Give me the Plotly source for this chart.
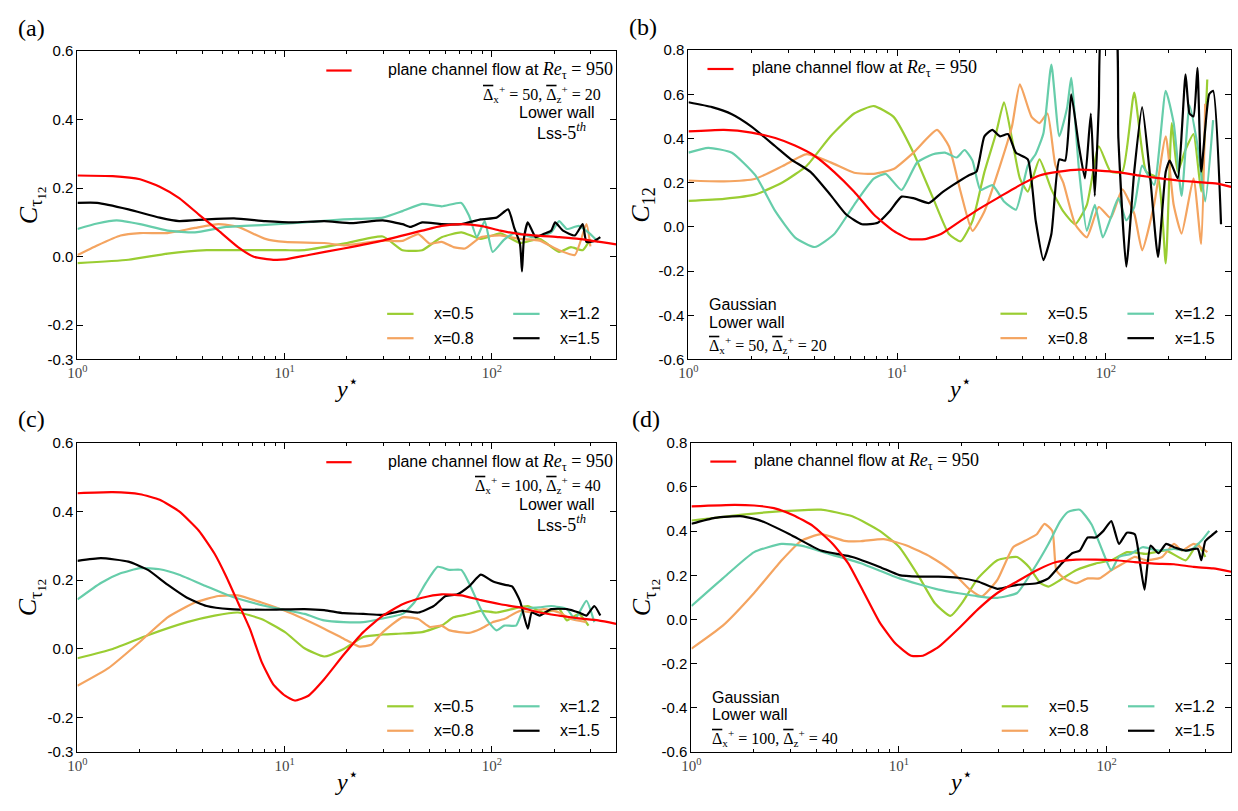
import numpy as np
import plotly.graph_objects as go

# ---------------- data: log10(y*) positions and correlation values ----------------
# Panel (a)
a_red_lx = [0, 0.17, 0.302, 0.397, 0.491, 0.586, 0.681, 0.775, 0.851, 0.945, 1.002, 1.115, 1.285, 1.474, 1.664, 1.758, 1.853, 1.947, 2.042, 2.136, 2.325, 2.42, 2.6]
a_red_v = [0.237, 0.235, 0.226, 0.204, 0.171, 0.123, 0.076, 0.028, 0.0, -0.009, -0.008, 0.005, 0.024, 0.047, 0.076, 0.09, 0.095, 0.09, 0.076, 0.066, 0.057, 0.052, 0.036]
a_k_lx = [0, 0.095, 0.246, 0.397, 0.491, 0.624, 0.756, 0.907, 1.04, 1.191, 1.323, 1.474, 1.569, 1.607, 1.664, 1.758, 1.853, 1.947, 2.023, 2.079, 2.108, 2.136, 2.146, 2.155, 2.174, 2.212, 2.25, 2.287, 2.306, 2.344, 2.401, 2.439, 2.457, 2.495, 2.524]
a_k_v = [0.157, 0.157, 0.138, 0.114, 0.104, 0.109, 0.112, 0.104, 0.1, 0.104, 0.098, 0.106, 0.095, 0.087, 0.1, 0.095, 0.095, 0.109, 0.114, 0.138, 0.085, 0.038, -0.043, 0.052, 0.1, 0.057, 0.066, 0.076, 0.1, 0.076, 0.062, 0.095, 0.043, 0.046, 0.057]
a_t_lx = [0, 0.095, 0.189, 0.302, 0.435, 0.567, 0.718, 0.907, 1.096, 1.285, 1.474, 1.569, 1.664, 1.758, 1.853, 1.89, 1.928, 1.966, 2.004, 2.06, 2.117, 2.193, 2.287, 2.325, 2.363, 2.42, 2.476, 2.514]
a_t_v = [0.081, 0.097, 0.106, 0.095, 0.076, 0.071, 0.087, 0.093, 0.1, 0.109, 0.114, 0.133, 0.154, 0.147, 0.157, 0.12, 0.057, 0.104, 0.014, 0.05, 0.071, 0.057, 0.071, 0.104, 0.081, 0.09, 0.066, 0.043]
a_o_lx = [0, 0.095, 0.208, 0.302, 0.435, 0.567, 0.681, 0.775, 0.907, 1.002, 1.191, 1.285, 1.474, 1.569, 1.645, 1.701, 1.758, 1.815, 1.871, 1.947, 2.042, 2.136, 2.231, 2.325, 2.401, 2.457, 2.476]
a_o_v = [0.005, 0.033, 0.062, 0.069, 0.069, 0.084, 0.095, 0.087, 0.052, 0.043, 0.04, 0.033, 0.047, 0.046, 0.066, 0.038, 0.043, 0.028, 0.024, 0.057, 0.062, 0.052, 0.047, 0.019, 0.005, 0.095, 0.03]
a_g_lx = [0, 0.246, 0.435, 0.624, 0.813, 1.002, 1.096, 1.285, 1.474, 1.569, 1.664, 1.758, 1.853, 1.947, 2.042, 2.136, 2.231, 2.325, 2.382, 2.439, 2.476]
a_g_v = [-0.019, -0.009, 0.009, 0.019, 0.019, 0.019, 0.019, 0.038, 0.059, 0.019, 0.019, 0.057, 0.071, 0.052, 0.068, 0.04, 0.052, 0.014, 0.028, 0.019, 0.052]

# Panel (b)
b_red_lx = [0, 0.17, 0.302, 0.416, 0.51, 0.605, 0.699, 0.794, 0.888, 0.983, 1.059, 1.134, 1.21, 1.304, 1.399, 1.493, 1.588, 1.682, 1.777, 1.871, 1.966, 2.06, 2.155, 2.25, 2.344, 2.439, 2.533, 2.6]
b_red_v = [0.432, 0.439, 0.427, 0.402, 0.368, 0.321, 0.248, 0.159, 0.056, -0.018, -0.055, -0.055, -0.032, 0.027, 0.085, 0.137, 0.189, 0.233, 0.25, 0.259, 0.255, 0.248, 0.233, 0.221, 0.21, 0.203, 0.196, 0.181]
b_k_lx = [0, 0.113, 0.208, 0.302, 0.416, 0.491, 0.586, 0.681, 0.756, 0.832, 0.907, 0.964, 1.021, 1.078, 1.153, 1.21, 1.267, 1.342, 1.38, 1.418, 1.456, 1.493, 1.531, 1.569, 1.626, 1.664, 1.701, 1.739, 1.777, 1.805, 1.834, 1.871, 1.9, 1.928, 1.947, 1.966, 1.985, 2.042, 2.06, 2.098, 2.136, 2.174, 2.212, 2.25, 2.287, 2.306, 2.344, 2.382, 2.401, 2.42, 2.439, 2.457, 2.495, 2.514, 2.552]
b_k_v = [0.564, 0.542, 0.51, 0.454, 0.365, 0.306, 0.248, 0.144, 0.056, 0.012, 0.019, 0.071, 0.137, 0.13, 0.108, 0.152, 0.189, 0.233, 0.25, 0.41, 0.439, 0.41, 0.42, 0.336, 0.306, 0.027, -0.15, -0.032, 0.306, 0.3, 0.6, 0.365, 0.22, 0.513, 0.14, 0.54, 0.95, 0.95, 0.4, -0.18, 0.25, 0.542, 0.23, -0.136, 0.25, 0.3, 0.22, 0.69, 0.513, 0.5, 0.72, 0.25, 0.6, 0.616, 0.012]
b_t_lx = [0, 0.095, 0.208, 0.321, 0.416, 0.51, 0.605, 0.699, 0.794, 0.888, 0.945, 1.021, 1.096, 1.172, 1.229, 1.285, 1.323, 1.361, 1.399, 1.456, 1.512, 1.569, 1.626, 1.664, 1.701, 1.739, 1.777, 1.815, 1.834, 1.871, 1.909, 1.947, 1.985, 2.023, 2.06, 2.098, 2.136, 2.174, 2.231, 2.287, 2.325, 2.363, 2.401, 2.439, 2.476, 2.514]
b_t_v = [0.336, 0.358, 0.336, 0.233, 0.071, -0.047, -0.091, -0.032, 0.1, 0.218, 0.24, 0.167, 0.292, 0.329, 0.336, 0.314, 0.348, 0.3, 0.167, 0.189, 0.115, 0.078, 0.277, 0.33, 0.424, 0.734, 0.41, 0.542, 0.675, 0.262, -0.018, 0.1, -0.047, 0.04, 0.13, 0.03, 0.09, 0.277, 0.19, 0.616, 0.47, 0.14, 0.55, 0.37, 0.115, 0.483]
b_g_lx = [0, 0.17, 0.321, 0.454, 0.567, 0.681, 0.794, 0.888, 0.983, 1.078, 1.172, 1.248, 1.304, 1.361, 1.418, 1.474, 1.512, 1.55, 1.588, 1.626, 1.682, 1.739, 1.796, 1.853, 1.909, 1.966, 2.023, 2.079, 2.136, 2.193, 2.25, 2.287, 2.316, 2.344, 2.382, 2.42, 2.457, 2.486]
b_g_v = [0.118, 0.127, 0.147, 0.203, 0.277, 0.41, 0.513, 0.547, 0.498, 0.336, 0.13, -0.032, -0.065, 0.027, 0.248, 0.424, 0.564, 0.4, 0.22, 0.16, 0.306, 0.17, 0.07, 0.012, 0.1, 0.365, 0.25, 0.25, 0.608, 0.25, 0.22, -0.165, 0.47, 0.25, 0.35, 0.42, 0.16, 0.667]
b_o_lx = [0, 0.17, 0.321, 0.454, 0.567, 0.681, 0.794, 0.888, 0.983, 1.078, 1.191, 1.248, 1.304, 1.361, 1.418, 1.493, 1.55, 1.588, 1.644, 1.682, 1.72, 1.758, 1.796, 1.853, 1.909, 1.966, 2.023, 2.079, 2.136, 2.174, 2.231, 2.287, 2.325, 2.363, 2.42, 2.457, 2.476]
b_o_v = [0.21, 0.206, 0.218, 0.277, 0.329, 0.292, 0.245, 0.24, 0.262, 0.336, 0.439, 0.365, 0.159, -0.018, 0.07, 0.277, 0.454, 0.645, 0.498, 0.47, 0.513, 0.28, 0.2, 0.012, -0.047, 0.09, 0.04, 0.17, 0.06, -0.106, 0.1, 0.41, 0.1, -0.03, 0.22, -0.077, 0.557]

# Panel (c)
c_red_lx = [0, 0.17, 0.302, 0.397, 0.491, 0.586, 0.662, 0.718, 0.775, 0.832, 0.888, 0.945, 1.002, 1.049, 1.115, 1.191, 1.285, 1.38, 1.474, 1.569, 1.664, 1.758, 1.853, 1.947, 2.042, 2.136, 2.231, 2.325, 2.42, 2.514, 2.6]
c_red_v = [0.453, 0.456, 0.45, 0.434, 0.4, 0.344, 0.277, 0.211, 0.135, 0.059, -0.036, -0.103, -0.136, -0.15, -0.136, -0.088, -0.017, 0.049, 0.097, 0.13, 0.149, 0.159, 0.156, 0.142, 0.13, 0.121, 0.106, 0.097, 0.089, 0.083, 0.073]
c_k_lx = [0, 0.113, 0.246, 0.34, 0.435, 0.529, 0.624, 0.737, 0.907, 1.096, 1.191, 1.285, 1.38, 1.474, 1.569, 1.645, 1.72, 1.777, 1.834, 1.89, 1.947, 2.004, 2.06, 2.098, 2.136, 2.174, 2.193, 2.231, 2.287, 2.363, 2.42, 2.457, 2.495, 2.524]
c_k_v = [0.256, 0.264, 0.254, 0.23, 0.187, 0.149, 0.125, 0.116, 0.114, 0.116, 0.113, 0.104, 0.102, 0.099, 0.111, 0.106, 0.125, 0.154, 0.159, 0.182, 0.216, 0.197, 0.187, 0.182, 0.14, 0.059, 0.106, 0.097, 0.116, 0.116, 0.106, 0.097, 0.125, 0.097]
c_t_lx = [0, 0.113, 0.208, 0.302, 0.397, 0.491, 0.624, 0.737, 0.907, 1.096, 1.191, 1.285, 1.38, 1.474, 1.569, 1.626, 1.682, 1.739, 1.796, 1.853, 1.89, 1.947, 1.985, 2.023, 2.06, 2.117, 2.155, 2.231, 2.287, 2.363, 2.401, 2.457, 2.495]
c_t_v = [0.144, 0.192, 0.22, 0.235, 0.232, 0.216, 0.182, 0.154, 0.125, 0.102, 0.083, 0.078, 0.078, 0.089, 0.102, 0.135, 0.192, 0.239, 0.23, 0.23, 0.192, 0.116, 0.078, 0.054, 0.068, 0.068, 0.116, 0.121, 0.125, 0.116, 0.087, 0.14, 0.078]
c_o_lx = [0, 0.151, 0.302, 0.435, 0.567, 0.681, 0.775, 0.888, 1.002, 1.191, 1.285, 1.361, 1.418, 1.474, 1.569, 1.645, 1.701, 1.758, 1.796, 1.89, 1.947, 2.004, 2.06, 2.136, 2.193, 2.25, 2.325, 2.382, 2.457]
c_o_v = [-0.107, -0.055, 0.021, 0.092, 0.135, 0.154, 0.156, 0.135, 0.111, 0.059, 0.03, 0.007, 0.012, 0.049, 0.092, 0.087, 0.064, 0.068, 0.054, 0.047, 0.059, 0.078, 0.087, 0.111, 0.106, 0.116, 0.106, 0.087, 0.078]
c_g_lx = [0, 0.17, 0.34, 0.529, 0.662, 0.775, 0.888, 1.002, 1.096, 1.191, 1.285, 1.38, 1.474, 1.569, 1.664, 1.758, 1.815, 1.871, 1.947, 2.023, 2.098, 2.174, 2.25, 2.325, 2.363, 2.42, 2.467]
c_g_v = [-0.027, 0, 0.04, 0.078, 0.097, 0.106, 0.087, 0.049, 0.002, -0.022, 0, 0.035, 0.042, 0.045, 0.049, 0.068, 0.092, 0.099, 0.111, 0.106, 0.116, 0.125, 0.106, 0.116, 0.083, 0.102, 0.068]

# Panel (d)
d_red_lx = [0, 0.208, 0.302, 0.397, 0.491, 0.586, 0.681, 0.756, 0.832, 0.907, 0.983, 1.059, 1.115, 1.191, 1.285, 1.38, 1.474, 1.569, 1.664, 1.758, 1.853, 1.947, 2.042, 2.136, 2.231, 2.325, 2.42, 2.514, 2.6]
d_red_v = [0.512, 0.519, 0.516, 0.504, 0.472, 0.423, 0.342, 0.253, 0.12, -0.013, -0.109, -0.164, -0.164, -0.124, -0.043, 0.046, 0.12, 0.172, 0.223, 0.26, 0.271, 0.271, 0.268, 0.26, 0.253, 0.25, 0.238, 0.231, 0.216]
d_k_lx = [0, 0.113, 0.246, 0.34, 0.473, 0.624, 0.775, 0.907, 1.002, 1.096, 1.191, 1.285, 1.38, 1.474, 1.569, 1.664, 1.72, 1.777, 1.834, 1.871, 1.909, 1.947, 1.985, 2.023, 2.06, 2.098, 2.136, 2.164, 2.183, 2.212, 2.25, 2.287, 2.325, 2.382, 2.439, 2.457, 2.476, 2.514, 2.533]
d_k_v = [0.433, 0.46, 0.467, 0.445, 0.386, 0.312, 0.283, 0.238, 0.201, 0.194, 0.194, 0.189, 0.172, 0.139, 0.157, 0.164, 0.186, 0.246, 0.3, 0.312, 0.371, 0.371, 0.401, 0.445, 0.342, 0.393, 0.386, 0.238, 0.135, 0.334, 0.3, 0.342, 0.327, 0.312, 0.32, 0.268, 0.355, 0.386, 0.401]
d_t_lx = [0, 0.151, 0.302, 0.435, 0.529, 0.662, 0.813, 1.002, 1.191, 1.38, 1.474, 1.569, 1.645, 1.72, 1.777, 1.815, 1.871, 1.928, 1.985, 2.023, 2.06, 2.117, 2.174, 2.25, 2.325, 2.401, 2.457, 2.495]
d_t_v = [0.061, 0.186, 0.305, 0.342, 0.334, 0.297, 0.256, 0.186, 0.135, 0.105, 0.098, 0.12, 0.223, 0.342, 0.445, 0.487, 0.497, 0.43, 0.3, 0.223, 0.283, 0.297, 0.327, 0.312, 0.319, 0.312, 0.356, 0.401]
d_o_lx = [0, 0.151, 0.302, 0.435, 0.529, 0.624, 0.737, 0.813, 0.926, 1.04, 1.153, 1.248, 1.342, 1.399, 1.474, 1.55, 1.607, 1.664, 1.701, 1.739, 1.758, 1.796, 1.853, 1.909, 1.966, 2.023, 2.079, 2.136, 2.193, 2.268, 2.325, 2.363, 2.42, 2.486]
d_o_v = [-0.132, -0.028, 0.12, 0.268, 0.356, 0.386, 0.356, 0.354, 0.364, 0.334, 0.283, 0.223, 0.135, 0.105, 0.179, 0.327, 0.356, 0.386, 0.433, 0.4, 0.223, 0.186, 0.164, 0.186, 0.186, 0.223, 0.253, 0.283, 0.268, 0.283, 0.342, 0.312, 0.342, 0.305]
d_g_lx = [0, 0.246, 0.435, 0.624, 0.775, 0.907, 1.002, 1.096, 1.172, 1.248, 1.304, 1.38, 1.474, 1.569, 1.626, 1.682, 1.72, 1.777, 1.853, 1.947, 2.023, 2.098, 2.193, 2.287, 2.382, 2.439, 2.476]
d_g_v = [0.448, 0.475, 0.49, 0.497, 0.467, 0.401, 0.327, 0.194, 0.075, 0.016, 0.075, 0.186, 0.268, 0.283, 0.238, 0.164, 0.149, 0.179, 0.223, 0.253, 0.268, 0.305, 0.297, 0.312, 0.268, 0.342, 0.283]

series_names = ["x=0.5", "x=0.8", "x=1.2", "x=1.5"]
ref_name = "plane channel flow at Re_tau = 950"
x_tick_vals = [1, 10, 100]
x_tick_text = ["10<sup>0</sup>", "10<sup>1</sup>", "10<sup>2</sup>"]
top_ytick_a = [0.6, 0.4, 0.2, 0.0, -0.2, -0.3]
top_ytick_b = [0.8, 0.6, 0.4, 0.2, 0.0, -0.2, -0.4, -0.6]

# ---------------- styles ----------------
COL = {"g": "#9acd32", "o": "#f4a460", "t": "#66cdaa", "k": "#000000", "red": "#ff0000"}
SANS = "Liberation Sans, Arial, sans-serif"
SERIF = "Liberation Serif, DejaVu Serif, serif"

W, H = 1238, 811
panels = {
    "a": dict(ax="", x0=68, x1=611, y0=43, y1=358, yr=[-0.3, 0.6], yt=top_ytick_a),
    "b": dict(ax="2", x0=684, x1=1231, y0=42, y1=358, yr=[-0.6, 0.8], yt=top_ytick_b),
    "c": dict(ax="3", x0=68, x1=611, y0=443, y1=759, yr=[-0.3, 0.6], yt=top_ytick_a),
    "d": dict(ax="4", x0=687, x1=1231, y0=443, y1=759, yr=[-0.6, 0.8], yt=top_ytick_b),
}
data = {
    "a": {"g": (a_g_lx, a_g_v), "o": (a_o_lx, a_o_v), "t": (a_t_lx, a_t_v), "k": (a_k_lx, a_k_v), "red": (a_red_lx, a_red_v)},
    "b": {"g": (b_g_lx, b_g_v), "o": (b_o_lx, b_o_v), "t": (b_t_lx, b_t_v), "k": (b_k_lx, b_k_v), "red": (b_red_lx, b_red_v)},
    "c": {"g": (c_g_lx, c_g_v), "o": (c_o_lx, c_o_v), "t": (c_t_lx, c_t_v), "k": (c_k_lx, c_k_v), "red": (c_red_lx, c_red_v)},
    "d": {"g": (d_g_lx, d_g_v), "o": (d_o_lx, d_o_v), "t": (d_t_lx, d_t_v), "k": (d_k_lx, d_k_v), "red": (d_red_lx, d_red_v)},
}

fig = go.Figure()
layout = dict(width=W, height=H, margin=dict(l=0, r=0, t=0, b=0),
              paper_bgcolor="white", plot_bgcolor="white", showlegend=False)
annotations = []
shapes = []

minor_vals = [v * m for m in (1, 10, 100) for v in range(2, 10) if v * m <= 400]
TXT = 16

for key, p in panels.items():
    ax = p["ax"]
    xa = "xaxis" + ax
    ya = "yaxis" + ax
    layout[xa] = dict(
        type="log", range=[0, 2.6], domain=[p["x0"] / W, p["x1"] / W],
        anchor="y" + ax, showline=True, mirror="allticks", linecolor="black", linewidth=1,
        ticks="inside", ticklen=6, tickcolor="black",
        tickvals=x_tick_vals, ticktext=x_tick_text,
        tickfont=dict(family=SERIF, size=15, color="#444"),
        showgrid=False, zeroline=False,
        minor=dict(tickmode="array", tickvals=minor_vals, ticks="inside", ticklen=3, tickcolor="black", showgrid=False),
    )
    layout[ya] = dict(
        range=p["yr"], domain=[1 - p["y1"] / H, 1 - p["y0"] / H],
        anchor="x" + ax, showline=True, mirror="allticks", linecolor="black", linewidth=1,
        ticks="inside", ticklen=6, tickcolor="black",
        tickvals=p["yt"], ticktext=[f"{v:.1f}" for v in p["yt"]],
        tickfont=dict(family=SANS, size=15, color="black"),
        showgrid=False, zeroline=False,
    )
    for s, nm in zip(["g", "o", "t", "k"], series_names):
        lx, v = data[key][s]
        fig.add_trace(go.Scatter(x=np.power(10.0, lx), y=v, mode="lines", name=nm,
                                 line=dict(color=COL[s], width=2.2, shape="spline", smoothing=0.5),
                                 xaxis="x" + ax, yaxis="y" + ax))
    lx, v = data[key]["red"]
    fig.add_trace(go.Scatter(x=np.power(10.0, lx), y=v, mode="lines", name=ref_name,
                             line=dict(color=COL["red"], width=2.2, shape="spline", smoothing=0.5),
                             xaxis="x" + ax, yaxis="y" + ax))

    xd = "x" + ax + " domain"
    yd = "y" + ax + " domain"
    # panel letter
    annotations.append(dict(text=f"({key})", xref="paper", yref="paper",
                            x=(p["x0"] - 62) / W, y=1 - (p["y0"] - 24) / H, xanchor="left", yanchor="middle",
                            showarrow=False, font=dict(family=SERIF, size=24, color="black")))
    # axis titles
    annotations.append(dict(text="<i>y</i><sup>⋆</sup>", xref=xd, yref="paper",
                            x=0.5, y=1 - (p["y1"] + 28) / H, xanchor="center", yanchor="middle",
                            showarrow=False, font=dict(family=SERIF, size=24, color="black")))
    ytitle = "<i>C</i><sub>12</sub>" if key == "b" else "<i>C</i><sub>τ<sub>12</sub></sub>"
    annotations.append(dict(text=ytitle, xref="paper", yref=yd,
                            x=(p["x0"] - 47) / W, y=0.5, xanchor="center", yanchor="middle", textangle=-90,
                            showarrow=False, font=dict(family=SERIF, size=26, color="black")))

    ov = lambda s: f"<span style='text-decoration:overline'>Δ</span><sub>{s}</sub><sup>+</sup>"
    dx, dz = ("50", "20") if key in ("a", "b") else ("100", "40")
    delta_txt = f"{ov('x')} = {dx}, {ov('z')} = {dz}"
    ref_txt = ("plane channel flow at <span style='font-family:Liberation Serif;font-size:18px'>"
               "<i>Re</i><sub>τ</sub> = 950</span>")

    if key in ("a", "c"):
        shapes.append(dict(type="line", xref=xd, yref=yd, x0=0.462, x1=0.509, y0=0.937, y1=0.937,
                           line=dict(color=COL["red"], width=2.2)))
        annotations.append(dict(text=ref_txt, xref=xd, yref=yd, x=0.998, y=0.937, xanchor="right", yanchor="middle",
                                showarrow=False, font=dict(family=SANS, size=TXT, color="black")))
        annotations.append(dict(text=delta_txt, xref=xd, yref=yd, x=0.975, y=0.862, xanchor="right", yanchor="middle",
                                showarrow=False, font=dict(family=SERIF, size=16, color="black")))
        annotations.append(dict(text="Lower wall", xref=xd, yref=yd, x=0.89, y=0.800, xanchor="center", yanchor="middle",
                                showarrow=False, font=dict(family=SANS, size=TXT, color="black")))
        annotations.append(dict(text="Lss-<span style='font-family:Liberation Serif;font-size:18px'>5<sup><i>th</i></sup></span>",
                                xref=xd, yref=yd, x=0.898, y=0.740, xanchor="center", yanchor="middle",
                                showarrow=False, font=dict(family=SANS, size=TXT, color="black")))
    else:
        shapes.append(dict(type="line", xref=xd, yref=yd, x0=0.035, x1=0.083, y0=0.939, y1=0.939,
                           line=dict(color=COL["red"], width=2.2)))
        annotations.append(dict(text=ref_txt, xref=xd, yref=yd, x=0.113, y=0.939, xanchor="left", yanchor="middle",
                                showarrow=False, font=dict(family=SANS, size=TXT, color="black")))
        annotations.append(dict(text="Gaussian", xref=xd, yref=yd, x=0.034, y=0.178, xanchor="left", yanchor="middle",
                                showarrow=False, font=dict(family=SANS, size=TXT, color="black")))
        annotations.append(dict(text="Lower wall", xref=xd, yref=yd, x=0.034, y=0.120, xanchor="left", yanchor="middle",
                                showarrow=False, font=dict(family=SANS, size=TXT, color="black")))
        annotations.append(dict(text=delta_txt, xref=xd, yref=yd, x=0.034, y=0.047, xanchor="left", yanchor="middle",
                                showarrow=False, font=dict(family=SERIF, size=16, color="black")))

    # series legend (2 columns)
    leg = [("g", series_names[0], 0.575, 0.148), ("t", series_names[2], 0.809, 0.148),
           ("o", series_names[1], 0.575, 0.069), ("k", series_names[3], 0.809, 0.069)]
    for s, nm, lxp, lyp in leg:
        shapes.append(dict(type="line", xref=xd, yref=yd, x0=lxp, x1=lxp + 0.049, y0=lyp, y1=lyp,
                           line=dict(color=COL[s], width=2.2)))
        annotations.append(dict(text=nm, xref=xd, yref=yd, x=lxp + 0.084, y=lyp, xanchor="left", yanchor="middle",
                                showarrow=False, font=dict(family=SANS, size=TXT, color="black")))

layout["annotations"] = annotations
layout["shapes"] = shapes
fig.update_layout(**layout)
fig.write_html("out.html", config={"displayModeBar": False},
               post_script="document.body.style.margin='0';document.body.style.overflow='hidden';")
